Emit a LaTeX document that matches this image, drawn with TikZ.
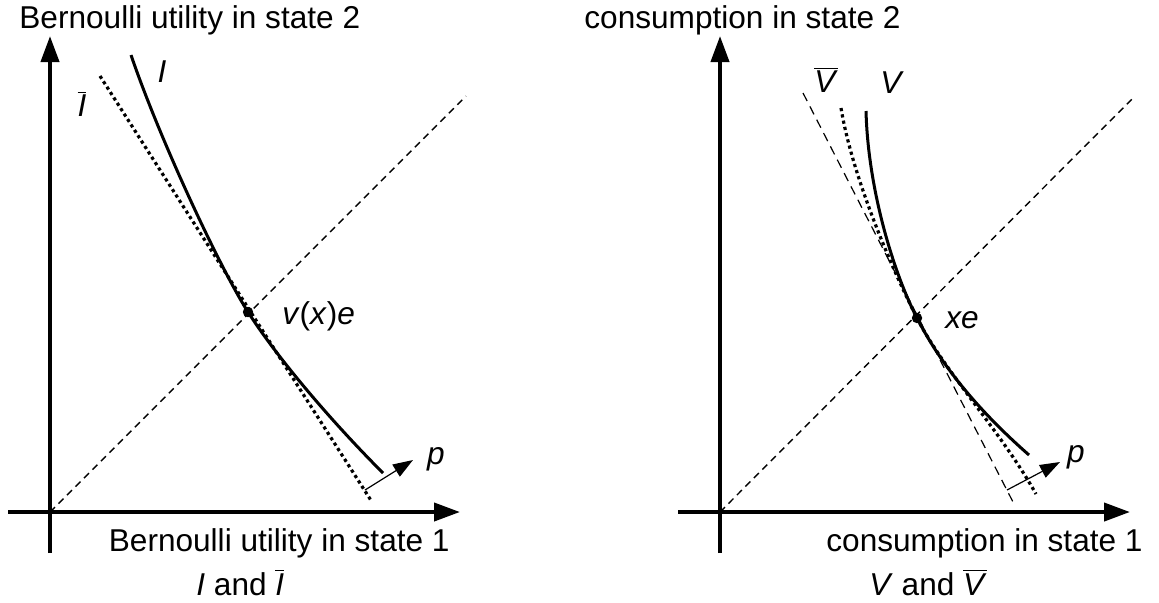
\documentclass[tikz,border=0pt]{standalone}
\usepackage{fontspec}
\setmainfont{Liberation Sans}
\usetikzlibrary{arrows.meta}
\newcommand{\ovl}[1]{$\overline{\mbox{\textit{#1}}}$}

\begin{document}
\begin{tikzpicture}[x=0.5pt, y=-0.5pt,
    axis/.style={line width=2pt, -{Triangle[length=13pt,width=9pt]}},
    diag/.style={line width=0.7pt, dash pattern=on 3.5pt off 2.5pt},
    tangent/.style={line width=0.6pt, dash pattern=on 4.5pt off 3pt},
    curve/.style={line width=1.5pt},
    dots/.style={line width=1.6pt, dash pattern=on 1.6pt off 1.6pt},
    pvec/.style={line width=0.6pt, -{Triangle[length=10pt,width=7pt]}},
    lbl/.style={font=\fontsize{15.8}{18}\selectfont, inner sep=0pt}
]
    \useasboundingbox (0,0) rectangle (1159,602);

    % left panel: I and I-bar
    \coordinate (xl1) at (8,512);   \coordinate (xr1) at (460,512);
    \coordinate (yb1) at (50,553);  \coordinate (yt1) at (50,36);
    \coordinate (O1) at (50,512);   \coordinate (d1) at (466,96);
    \coordinate (t1a) at (100,76);  \coordinate (t1b) at (372,502);
    \coordinate (i1a) at (131,55);  \coordinate (i1b) at (383,473);
    \coordinate (pa1) at (365,490); \coordinate (pb1) at (413,460);
    \draw[axis] (xl1) -- (xr1);
    \draw[axis] (yb1) -- (yt1);
    \draw[diag] (O1) -- (d1);
    \draw[dots] (t1a) -- (t1b);
    \draw[curve] (i1a) .. controls (160,140) and (220,268) .. (248,312)
        .. controls (276,356) and (330,420) .. (i1b);
    \fill (248,312) circle (2.6pt) coordinate (e1);
    \draw[pvec] (pa1) -- (pb1);
    \node[lbl, anchor=west] (ve) at (282,316) {\textit{v}(\textit{x})\textit{e}};
    \node[lbl] (pl1) at (436,459) {\textit{p}};
    \node[lbl] (lI) at (162,72) {\textit{I}};
    \node[lbl] (lIb) at (82,104) {\ovl{I}};
    \node[lbl, anchor=base west] (ylab1) at (19,28) {Bernoulli utility in state 2};
    \node[lbl, anchor=base east] (xlab1) at (450,551) {Bernoulli utility in state 1};
    \node[lbl, anchor=base west] (cap1) at (196,595) {\textit{I} and \ovl{I}};

    % right panel: V and V-bar
    \coordinate (xl2) at (678,512); \coordinate (xr2) at (1130,512);
    \coordinate (yb2) at (720,553); \coordinate (yt2) at (720,36);
    \coordinate (O2) at (720,512);  \coordinate (d2) at (1134,97);
    \coordinate (t2a) at (803,93);  \coordinate (t2b) at (1013,502);
    \coordinate (w2a) at (841,108); \coordinate (w2b) at (1036,494);
    \coordinate (v2a) at (866,111); \coordinate (v2b) at (1029,455);
    \coordinate (pa2) at (1007,490); \coordinate (pb2) at (1060,462);
    \draw[axis] (xl2) -- (xr2);
    \draw[axis] (yb2) -- (yt2);
    \draw[diag] (O2) -- (d2);
    \draw[tangent] (t2a) -- (t2b);
    \draw[dots] (w2a) .. controls (852,175) and (890,265) .. (917,318)
        .. controls (944,371) and (1000,430) .. (w2b);
    \draw[curve] (v2a) .. controls (868,190) and (894,274) .. (917,318)
        .. controls (942,367) and (980,412) .. (v2b);
    \fill (917,318) circle (2.6pt) coordinate (e2);
    \draw[pvec] (pa2) -- (pb2);
    \node[lbl, anchor=west] (xe) at (945,320) {\textit{xe}};
    \node[lbl] (pl2) at (1076,457) {\textit{p}};
    \node[lbl] (lV) at (892,83) {\textit{V}};
    \node[lbl] (lVb) at (826,80) {\ovl{V}};
    \node[lbl, anchor=base west] (ylab2) at (584,28) {consumption in state 2};
    \node[lbl, anchor=base east] (xlab2) at (1143,551) {consumption in state 1};
    \node[lbl, anchor=base west] (cap2) at (869,595) {\textit{V} and \ovl{V}};
\end{tikzpicture}
\end{document}
